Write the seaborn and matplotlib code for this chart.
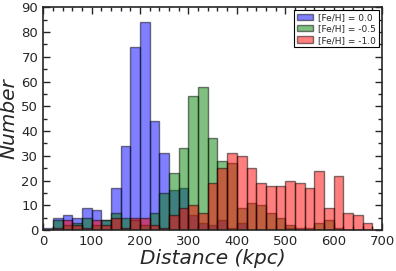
import numpy as np
import pandas as pd
import matplotlib
matplotlib.use("Agg")
import matplotlib.pyplot as plt
import seaborn as sns

# bins: 0-700 kpc, 20 kpc wide
edges = np.arange(0, 701, 20)
centers = edges[:-1] + 10

n_feh00 = [1, 5, 6, 5, 9, 8, 4, 17, 34, 74, 84, 44, 31, 16, 17, 6, 3, 2, 4, 1,
           3, 0, 0, 0, 0, 1, 0, 0, 0, 0, 0, 0, 0, 0, 0]
n_feh05 = [0, 4, 2, 3, 5, 2, 4, 7, 5, 4, 2, 7, 15, 23, 33, 54, 58, 37, 28, 27,
           9, 11, 10, 7, 5, 2, 1, 1, 3, 4, 1, 0, 0, 0, 0]
n_feh10 = [0, 1, 4, 2, 1, 4, 2, 5, 1, 5, 5, 2, 1, 6, 9, 10, 7, 19, 25, 31,
           30, 25, 19, 18, 18, 20, 19, 17, 24, 9, 22, 7, 6, 3, 0]

labels = ["[Fe/H] = 0.0", "[Fe/H] = -0.5", "[Fe/H] = -1.0"]
colors = ["blue", "green", "red"]

sns.set_style("ticks", {"xtick.direction": "in", "ytick.direction": "in"})
plt.rcParams["font.family"] = ["DejaVu Sans"]

fig = plt.figure(figsize=(3.96, 2.71), dpi=100)
ax = fig.add_axes([0.109, 0.151, 0.856, 0.822])

for counts, lab, col in zip([n_feh00, n_feh05, n_feh10], labels, colors):
    df = pd.DataFrame({"dist": centers, "n": counts})
    sns.histplot(data=df, x="dist", weights="n", binwidth=20, binrange=(0, 700),
                 color=col, alpha=0.5, edgecolor=(0, 0, 0, 0.5), linewidth=1,
                 label=lab, ax=ax)

ax.set_xlim(0, 700)
ax.set_ylim(0, 90)
ax.set_xticks(np.arange(0, 701, 100))
ax.set_xticks(np.arange(0, 701, 20), minor=True)
ax.set_yticks(np.arange(0, 91, 10))
ax.set_yticks(np.arange(0, 91, 5), minor=True)
ax.tick_params(which="both", direction="in", top=True, right=True, labelsize=9.5)
ax.tick_params(which="major", length=5, width=1)
ax.tick_params(which="minor", length=3, width=1)
for s in ax.spines.values():
    s.set_linewidth(1.2)

ax.set_xlabel("Distance (kpc)", fontsize=14.5, style="italic", labelpad=1)
ax.set_ylabel("Number", fontsize=14.5, style="italic", labelpad=2)

leg = ax.legend(loc="upper right", fontsize=6.5, fancybox=False, framealpha=1,
                edgecolor="black", borderaxespad=0.35, handlelength=1.8,
                handletextpad=0.6, borderpad=0.3, labelspacing=0.25)
leg.get_frame().set_linewidth(0.8)

fig.savefig("out.png", dpi=100)
